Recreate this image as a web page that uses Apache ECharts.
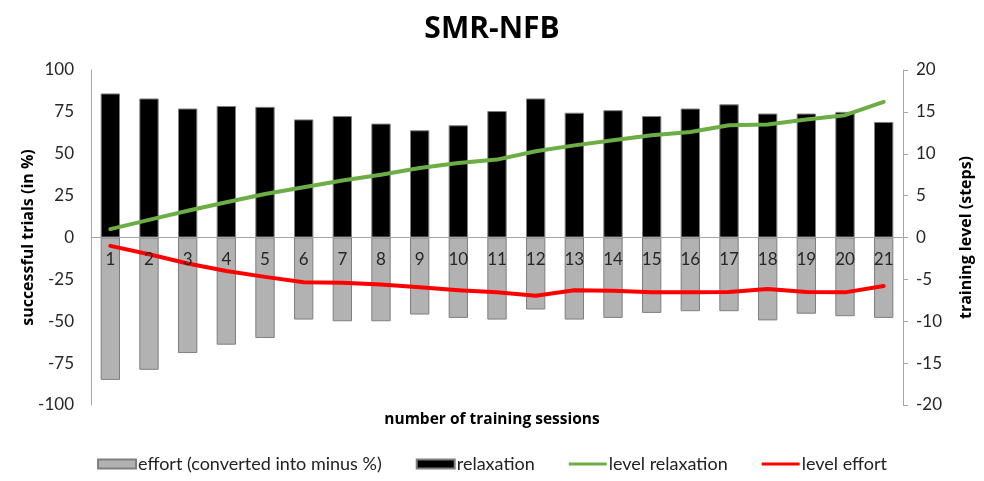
<!DOCTYPE html>
<html>
<head>
<meta charset="utf-8">
<script src="https://cdn.jsdelivr.net/npm/echarts@6/dist/echarts.min.js"></script>
<style>html,body{margin:0;padding:0;background:#fff}#c{width:984px;height:481px}</style>
</head>
<body>
<div id="c"></div>
<script>
var sessions = ['1','2','3','4','5','6','7','8','9','10','11','12','13','14','15','16','17','18','19','20','21'];
var effort = [-85, -79, -69, -64, -60, -49, -50, -50, -46, -48, -49, -43, -49, -48, -45, -44, -44, -49.5, -45.5, -47, -48];
var relaxation = [86, 83, 77, 78.5, 78, 70.5, 72.5, 68, 64, 67, 75.5, 83, 74.5, 76, 72.5, 77, 79.5, 74, 74, 75, 69];
var levelRelaxation = [1, 2.1, 3.2, 4.2, 5.2, 6, 6.8, 7.5, 8.3, 8.9, 9.3, 10.3, 11, 11.6, 12.2, 12.6, 13.4, 13.5, 14.1, 14.6, 16.2];
var levelEffort = [-1, -2, -3.1, -4, -4.7, -5.35, -5.4, -5.6, -5.95, -6.3, -6.55, -6.95, -6.3, -6.35, -6.55, -6.55, -6.5, -6.15, -6.5, -6.55, -5.8];
var leftTicks = {min: -100, max: 100, interval: 25};
var rightTicks = {min: -20, max: 20, interval: 5};

var lineIcon = 'path://M0,0 M0,3 L38,3 L38,6 L0,6 Z M38,9';
var gridTop = 70, gridBottom = 76, H = 481;
var plotH = H - gridTop - gridBottom;
var chart = echarts.init(document.getElementById('c'));
var font = 'Lato';
chart.setOption({
  animation: false,
  title: {
    text: 'SMR-NFB', left: 'center', top: 9,
    textStyle: {fontFamily: 'Open Sans', fontWeight: 'bold', fontSize: 30, color: '#000'}
  },
  graphic: [{
    type: 'text', left: 'center', top: 412,
    style: {text: 'number of training sessions', font: 'bold 15.5px "Open Sans"', fill: '#000'}
  }],
  legend: {
    bottom: 3, left: 'center', itemGap: 34, itemWidth: 38, itemHeight: 9,
    textStyle: {fontFamily: font, fontSize: 18, color: '#222', padding: [0, 0, 0, -3]},
    data: [
      {name: 'effort (converted into minus %)', icon: 'rect'},
      {name: 'relaxation', icon: 'rect'},
      {name: 'level relaxation', icon: lineIcon},
      {name: 'level effort', icon: lineIcon}
    ]
  },
  grid: {left: 91, right: 81, top: gridTop, bottom: gridBottom},
  xAxis: {
    type: 'category', data: sessions, z: 10, position: 'bottom',
    offset: -plotH / 2,
    axisLine: {show: true, onZero: false, lineStyle: {color: '#a6a6a6', width: 1}},
    axisTick: {show: false},
    axisLabel: {fontFamily: font, fontSize: 17, color: '#262626', margin: 14}
  },
  yAxis: [{
    type: 'value', min: leftTicks.min, max: leftTicks.max, interval: leftTicks.interval,
    name: 'successful trials (in %)', nameLocation: 'middle', nameGap: 55, nameRotate: 90,
    nameMoveOverlap: false,
    nameTextStyle: {fontFamily: 'Open Sans', fontWeight: 'bold', fontSize: 16, color: '#000'},
    axisLine: {show: true, onZero: false, lineStyle: {color: '#a6a6a6'}},
    axisTick: {show: false},
    splitLine: {show: false},
    axisLabel: {fontFamily: font, fontSize: 17, color: '#262626', margin: 17}
  }, {
    type: 'value', min: rightTicks.min, max: rightTicks.max, interval: rightTicks.interval,
    name: 'training level (steps)', nameLocation: 'middle', nameGap: 55, nameRotate: 90,
    nameMoveOverlap: false,
    nameTextStyle: {fontFamily: 'Open Sans', fontWeight: 'bold', fontSize: 16, color: '#000'},
    axisLine: {show: true, onZero: false, lineStyle: {color: '#a6a6a6'}},
    axisTick: {show: true, length: 5, lineStyle: {color: '#a6a6a6'}},
    splitLine: {show: false},
    axisLabel: {fontFamily: font, fontSize: 17, color: '#262626', margin: 13}
  }],
  series: [{
    name: 'effort (converted into minus %)', type: 'bar', data: effort,
    barWidth: '50%', barGap: '-100%',
    itemStyle: {color: '#b2b2b2', borderColor: '#7f7f7f', borderWidth: 1}
  }, {
    name: 'relaxation', type: 'bar', data: relaxation,
    barWidth: '50%', barGap: '-100%',
    itemStyle: {color: '#000', borderColor: '#7f7f7f', borderWidth: 1}
  }, {
    name: 'level relaxation', type: 'line', yAxisIndex: 1, data: levelRelaxation,
    symbol: 'none', z: 5,
    lineStyle: {color: '#6cad45', width: 4, cap: 'round', join: 'round'},
    itemStyle: {color: '#6cad45'}
  }, {
    name: 'level effort', type: 'line', yAxisIndex: 1, data: levelEffort,
    symbol: 'none', z: 5,
    lineStyle: {color: '#ff0000', width: 4, cap: 'round', join: 'round'},
    itemStyle: {color: '#ff0000'}
  }]
});
</script>
</body>
</html>
